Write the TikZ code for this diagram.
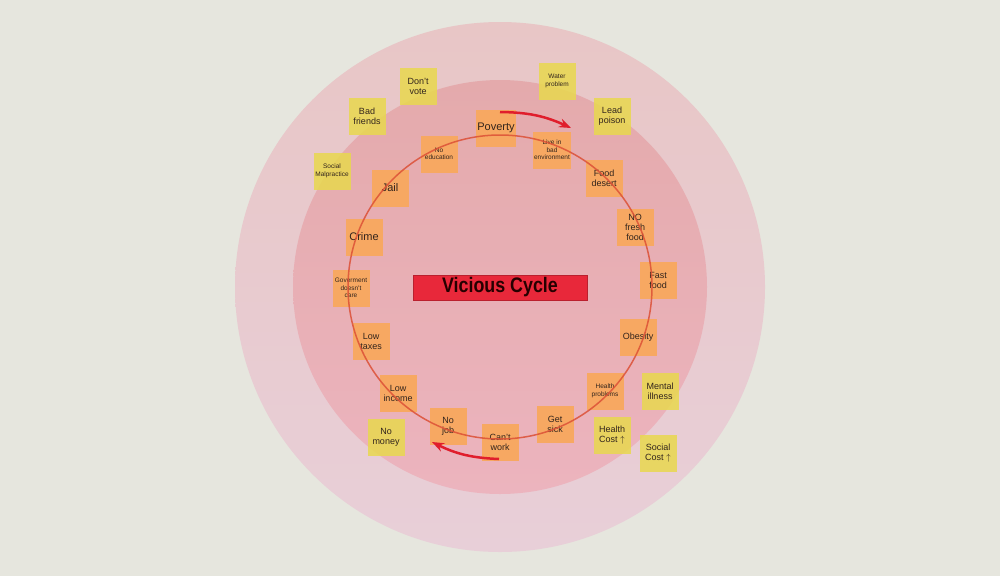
\documentclass[tikz,border=0pt]{standalone}
\usepackage{fontspec}
\setmainfont{Liberation Sans}
\newfontfamily\titlefont[FakeStretch=0.85]{Liberation Sans}
\usetikzlibrary{arrows.meta,positioning}
\definecolor{wall}{RGB}{230,230,222}
\definecolor{outertop}{RGB}{232,198,198}
\definecolor{outerbot}{RGB}{232,207,216}
\definecolor{innertop}{RGB}{228,170,172}
\definecolor{innerbot}{RGB}{236,180,190}
\definecolor{orangepad}{RGB}{248,168,94}
\definecolor{yellowpad}{RGB}{232,216,78}
\definecolor{ink}{RGB}{50,36,28}
\definecolor{loopline}{RGB}{220,80,54}
\definecolor{arrowred}{RGB}{224,30,44}
\definecolor{titlered}{RGB}{232,40,58}
\tikzset{
	note/.style={rectangle,minimum width=37,minimum height=37,inner sep=1pt,align=center,text=ink,font=\fontsize{9}{10}\selectfont},
	hot/.style={note,fill=orangepad,fill opacity=0.95,text opacity=1},
	cold/.style={note,fill=yellowpad,fill opacity=0.85,text opacity=1},
	tiny/.style={font=\fontsize{6.5}{7.5}\selectfont},
	big/.style={font=\fontsize{11}{12}\selectfont},
	cause/.style={-{Stealth[length=12pt,width=9pt]},draw=arrowred,line width=2.5pt}
}
\begin{document}
\begin{tikzpicture}[x=1pt,y=-1pt]
	\fill[wall] (0,0) rectangle (1000,576);
	\useasboundingbox (0,0) rectangle (1000,576);
	\shade[top color=outertop,bottom color=outerbot] (500,287) circle[radius=265];
	\shade[top color=innertop,bottom color=innerbot] (500,287) circle[radius=207];

	% outer ring
	\node[cold] (dontVote) at (418,86) {Don't\\vote};
	\node[cold] (badFriends) at (367,116) {Bad\\friends};
	\node[cold,tiny] (socialMal) at (332,171) {Social\\Malpractice};
	\node[cold,tiny] (waterProb) at (557,81) {Water\\problem};
	\node[cold] (leadPoison) at (612,116) {Lead\\poison};
	\node[cold] (mentalIll) at (660,391) {Mental\\illness};
	\node[cold] (healthCost) at (612,435) {Health\\Cost $\uparrow$};
	\node[cold] (socialCost) at (658,453) {Social\\Cost $\uparrow$};
	\node[cold] (noMoney) at (386,437) {No\\money};

	% the cycle
	\node[hot,big] (poverty) at (496,128) {Poverty};
	\node[hot,tiny] (liveBad) at (552,150) {Live in\\bad\\environment};
	\node[hot] (foodDesert) at (604,178) {Food\\desert};
	\node[hot] (noFresh) at (635,227) {NO\\fresh\\food};
	\node[hot] (fastFood) at (658,280) {Fast\\food};
	\node[hot] (obesity) at (638,337) {Obesity};
	\node[hot,tiny] (healthProb) at (605,391) {Health\\problems};
	\node[hot] (getSick) at (555,424) {Get\\sick};
	\node[hot] (cantWork) at (500,442) {Can't\\work};
	\node[hot] (noJob) at (448,426) {No\\job};
	\node[hot] (lowIncome) at (398,393) {Low\\income};
	\node[hot] (lowTaxes) at (371,341) {Low\\taxes};
	\node[hot,tiny] (govCare) at (351,288) {Goverment\\doesn't\\care};
	\node[hot,big] (crime) at (364,237) {Crime};
	\node[hot,big] (jail) at (390,188) {Jail};
	\node[hot,tiny] (noEdu) at (439,154) {No\\education};

	\draw[loopline,line width=1.5pt,opacity=0.85] (500,287) circle[radius=152];

	\coordinate (topFrom) at (500,112);
	\coordinate (topTo) at (571,128);
	\coordinate (botFrom) at (499,459);
	\coordinate (botTo) at (432,442);
	\draw[cause] (topFrom) to[bend left=12] (topTo);
	\draw[cause] (botFrom) to[bend left=12] (botTo);

	\node[fill=titlered,draw=titlered!80!black,line width=0.6pt,minimum width=174,minimum height=25,inner sep=0pt,text=black!85!red,font=\titlefont\bfseries\fontsize{21}{22}\selectfont] (title) at (500,287.5) {Vicious Cycle};
\end{tikzpicture}
\end{document}
